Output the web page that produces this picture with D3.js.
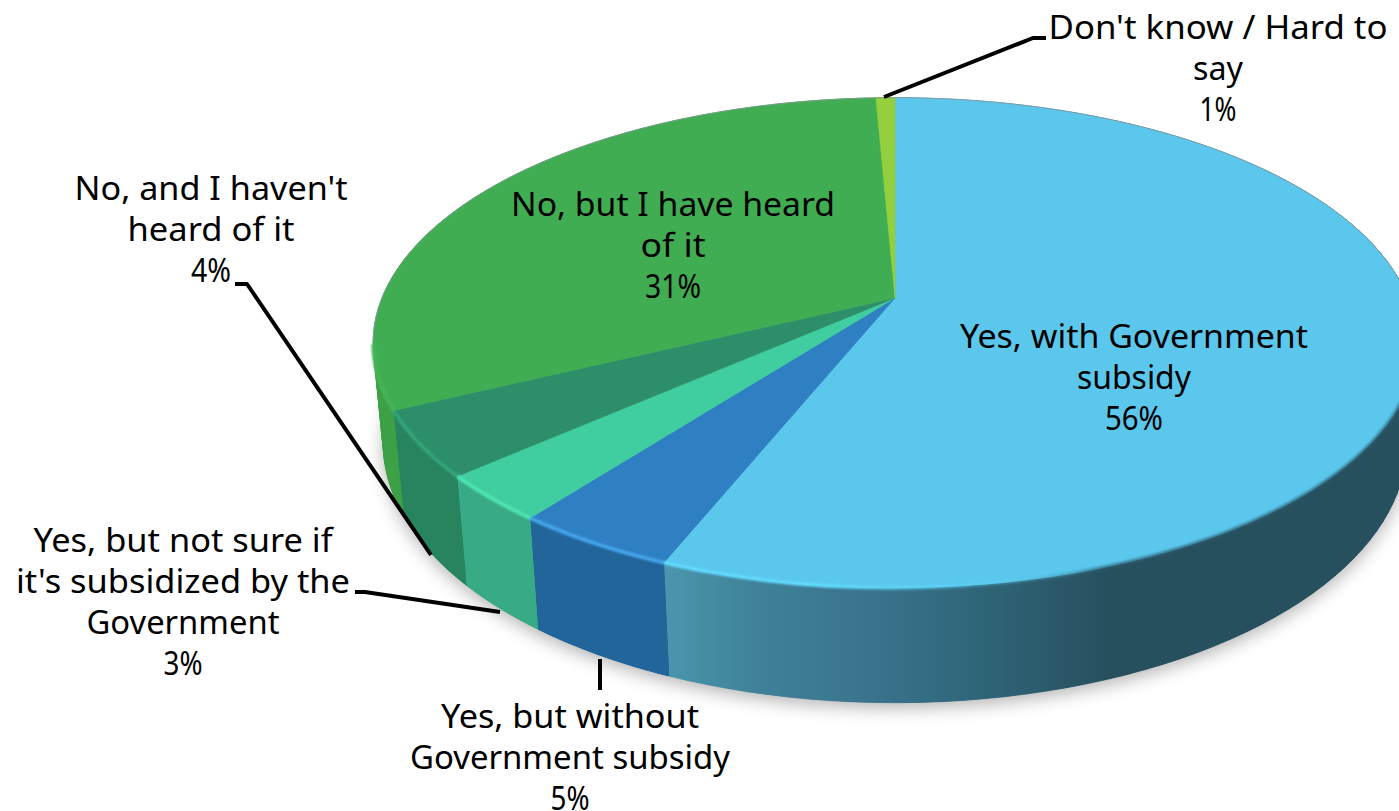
<!DOCTYPE html>
<html><head><meta charset="utf-8">
<style>html,body{margin:0;padding:0;background:#fff;overflow:hidden}svg{display:block}
text{font-family:"Noto Sans",sans-serif;font-size:32px;fill:#000;text-anchor:middle}</style>
<script src="https://cdn.jsdelivr.net/npm/d3@7/dist/d3.min.js"></script>
</head><body>
<script>
// data
const categories=["Yes, with Government subsidy","Yes, but without Government subsidy","Yes, but not sure if it's subsidized by the Government","No, and I haven't heard of it","No, but I have heard of it","Don't know / Hard to say"];
const values=[56.1,4.3,3.1,4.3,31.5,0.7];
const percentLabels=["56%","5%","3%","4%","31%","1%"];
// style
const topColors=["#5BC7EC","#2E80C3","#40CD9F","#2D8F6A","#41AD52","#93CF3E"];
const wallColors=["url(#wallBig)","#22659B","#38AA85","#28835F","#3DA046","#7FB03A"];
const rimColors=["url(#rimBig)","#46A8EE","#4FE8B4","#35A67C","#47B559","#93CF3E"];
// layout
const labelLines=[["Yes, with Government","subsidy"],["Yes, but without","Government subsidy"],["Yes, but not sure if","it's subsidized by the","Government"],["No, and I haven't","heard of it"],["No, but I have heard","of it"],["Don't know / Hard to","say"]];
const labelWidths=[[348,114,58],[258,320,39],[299,334,193,39],[273,167,40],[324,65,56],[339,50,37]];
const labelAnchors=[[1134,348],[570,728],[183,552],[211,200],[673,216],[1218,39]];
const leaders=[[[600,659],[600,690]],[[500,612],[365,592],[355,592]],[[431,555],[247,284],[235,284]],[[884,97],[1033,38],[1046,38]]];
const W=1399,H=811,cx=895,cy=298,R=513,persp=-0.183,tilt=182.4,vanishY=5600,depthK=0.0187;

const svg=d3.select("body").append("svg").attr("width",W).attr("height",H);
const defs=svg.append("defs");
const grad=(id,stops)=>{const g=defs.append("linearGradient").attr("id",id).attr("gradientUnits","userSpaceOnUse").attr("x1",665).attr("x2",1399).attr("y1",0).attr("y2",0);
 stops.forEach(s=>g.append("stop").attr("offset",s[0]).attr("stop-color",s[1]).attr("stop-opacity",s[2]??1));};
grad("wallBig",[[0,"#4A96AE"],[.12,"#3F8299"],[.3,"#38728A"],[.45,"#2E6375"],[.6,"#27505F"],[1,"#27505F"]]);
grad("rimBig",[[0,"#62DCFF",1],[.2,"#62DCFF",1],[.45,"#62DCFF",.25],[.6,"#2C5F73",.7],[1,"#2C5F73",.7]]);
defs.append("filter").attr("id","soft").attr("x","-10%").attr("y","-10%").attr("width","120%").attr("height","130%").append("feGaussianBlur").attr("stdDeviation",9);
defs.append("filter").attr("id","rimBlur").attr("x","-5%").attr("y","-5%").attr("width","110%").attr("height","110%").append("feGaussianBlur").attr("stdDeviation",1.1);

const angle=d3.scaleLinear().domain([0,100]).range([0,2*Math.PI]);
const arcs=d3.pie().sort(null).value(d=>d).startAngle(0).endAngle(2*Math.PI)(values);
const sFactor=v=>1/(1+persp*v);
const top3=a=>{const u=Math.sin(a),v=-Math.cos(a),s=sFactor(v);return [cx+R*u*s,(tilt*v+cy)*s];};
const bottom3=a=>{const p=top3(a),t=depthK*sFactor(-Math.cos(a));return [p[0]+(cx-p[0])*t,p[1]+(vanishY-p[1])*t];};
const steps=(a0,a1)=>d3.range(0,101).map(i=>a0+(a1-a0)*i/100);
const line=d3.line();

// shadow
svg.append("path").attr("d",line(steps(0,2*Math.PI).map(bottom3))+"Z").attr("fill","#000").attr("opacity",.3).attr("filter","url(#soft)").attr("transform","translate(0,5)");

// walls: one small quad per step, so the outline between rim and base is filled at the silhouette
const wallGroups=svg.selectAll("g.wall").data(arcs).join("g").attr("class","wall")
 .attr("fill",(d,i)=>wallColors[i]).attr("stroke",(d,i)=>wallColors[i]).attr("stroke-width",.7);
wallGroups.selectAll("path").data(d=>d3.pairs(steps(d.startAngle,d.endAngle))).join("path")
 .attr("d",([a,b])=>line([top3(a),top3(b),bottom3(b),bottom3(a)])+"Z");
// continuous wall faces over the quads, hiding their seams
svg.selectAll("path.wallFace").data(arcs).join("path").attr("class","wallFace")
 .attr("d",d=>{const a=steps(d.startAngle,d.endAngle);return line(a.map(top3).concat(a.slice().reverse().map(bottom3)))+"Z";})
 .attr("fill",(d,i)=>wallColors[i]);
// tops
svg.selectAll("path.top").data(arcs).join("path").attr("class","top")
 .attr("d",d=>line([[cx,cy]].concat(steps(d.startAngle,d.endAngle).map(top3)))+"Z")
 .attr("fill",(d,i)=>topColors[i]).attr("stroke",(d,i)=>topColors[i]).attr("stroke-width",.6);
// rim outline at back
svg.append("path").attr("d",line(steps(-1.75,1.6).map(top3))).attr("fill","none").attr("stroke","#8a9a9f").attr("stroke-width",1).attr("opacity",.7);
// rim highlight
const rimArcs=arcs.map((d,i)=>({d,i})).filter(o=>o.i<5);
svg.append("g").attr("filter","url(#rimBlur)").selectAll("path").data(rimArcs).join("path")
 .attr("d",o=>{const lo=o.i===0?Math.max(o.d.startAngle,1.7):o.d.startAngle,hi=o.i===4?Math.min(o.d.endAngle,angle(72)):o.d.endAngle;return line(steps(lo,hi).map(top3));})
 .attr("fill","none").attr("stroke",o=>rimColors[o.i]).attr("stroke-width",3.5);
// leaders
svg.selectAll("path.leader").data(leaders).join("path").attr("class","leader").attr("d",d=>line(d)).attr("fill","none").attr("stroke","#000").attr("stroke-width",4).attr("stroke-linejoin","round");
// labels
labelLines.forEach((ls,i)=>{
 ls.concat([percentLabels[i]]).forEach((s,j)=>{
  svg.append("text").attr("x",labelAnchors[i][0]).attr("y",labelAnchors[i][1]+j*41)
   .attr("textLength",labelWidths[i][j]).attr("lengthAdjust","spacingAndGlyphs").text(s);
 });
});
</script>
</body></html>
